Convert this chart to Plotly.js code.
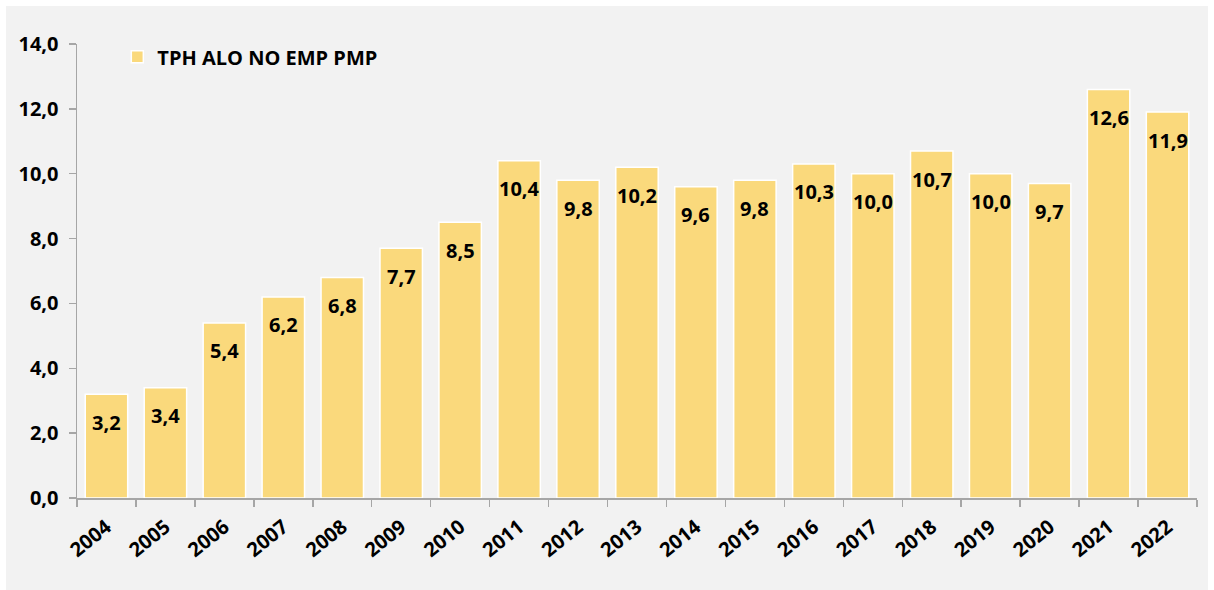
<!DOCTYPE html>
<html>
<head>
<meta charset="utf-8">
<script src="https://cdn.plot.ly/plotly-3.0.1.min.js"></script>
<style>
html,body{margin:0;padding:0;background:#ffffff;}
#chart{position:absolute;left:6px;top:6px;width:1202px;height:584px;}
</style>
</head>
<body>
<div id="chart"></div>
<script>
const years = ['2004','2005','2006','2007','2008','2009','2010','2011','2012','2013','2014','2015','2016','2017','2018','2019','2020','2021','2022'];
const values = [3.2,3.4,5.4,6.2,6.8,7.7,8.5,10.4,9.8,10.2,9.6,9.8,10.3,10.0,10.7,10.0,9.7,12.6,11.9];
const seriesName = 'TPH ALO NO EMP PMP';
const yTicks = [0,2,4,6,8,10,12,14];

const fmt = v => v.toFixed(1).replace('.', ',');
const FONT = '"Open Sans", sans-serif';

const trace = {
  type: 'bar',
  x: years,
  y: values,
  name: seriesName,
  marker: {color: '#fad97c', line: {color: '#ffffff', width: 1.5}},
  hoverinfo: 'x+y'
};

const annotations = years.map((yr, i) => ({
  x: i, y: values[i], xref: 'x', yref: 'y',
  text: fmt(values[i]), showarrow: false,
  yshift: -28,
  font: {family: FONT, size: 20, color: '#000000', weight: 700}
}));

const layout = {
  width: 1202, height: 584,
  margin: {l: 71, r: 11, t: 38, b: 92},
  paper_bgcolor: '#f2f2f2',
  plot_bgcolor: '#f2f2f2',
  separators: ',.',
  bargap: 0.28,
  showlegend: true,
  legend: {
    x: 0.036, y: 1.015, xanchor: 'left', yanchor: 'top',
    bgcolor: 'rgba(0,0,0,0)',
    font: {family: FONT, size: 20, color: '#000000', weight: 700}
  },
  xaxis: {
    type: 'category',
    categoryorder: 'array', categoryarray: years,
    range: [-0.5, years.length - 0.5],
    tickson: 'boundaries',
    ticks: 'outside', ticklen: 7, tickcolor: '#a6a6a6', tickwidth: 1.5,
    showline: true, linecolor: '#a6a6a6', linewidth: 1.5,
    showgrid: false, zeroline: false,
    tickangle: -39,
    ticklabelstandoff: 8,
    tickfont: {family: FONT, size: 20, color: '#000000', weight: 700}
  },
  yaxis: {
    range: [0, 14],
    tickvals: yTicks,
    tickformat: '.1f',
    ticks: 'outside', ticklen: 7, tickcolor: '#a6a6a6', tickwidth: 1.5,
    showline: true, linecolor: '#a6a6a6', linewidth: 1.5,
    showgrid: false, zeroline: false,
    ticklabelstandoff: 6,
    tickfont: {family: FONT, size: 20, color: '#000000', weight: 700}
  },
  annotations: annotations
};

Plotly.newPlot('chart', [trace], layout, {displayModeBar: false, staticPlot: true});
</script>
</body>
</html>
